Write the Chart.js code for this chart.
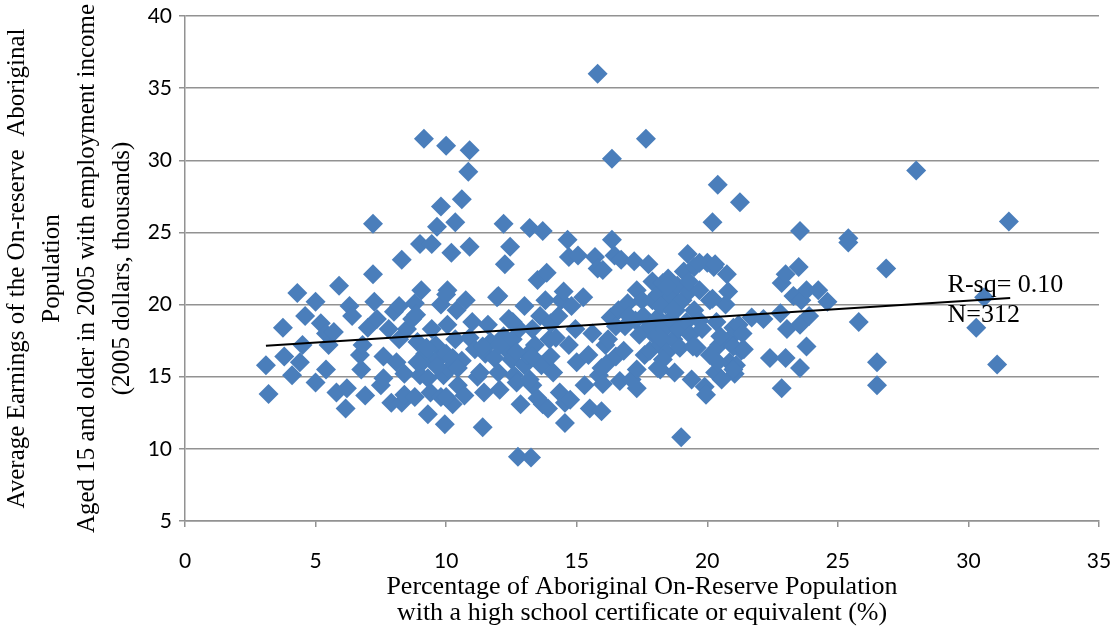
<!DOCTYPE html>
<html>
<head>
<meta charset="utf-8">
<script src="https://cdn.jsdelivr.net/npm/chart.js@4.4.1/dist/chart.umd.min.js"></script>
<style>
  html, body { margin: 0; padding: 0; background: #fff; overflow: hidden; }
  canvas { display: block; }
</style>
</head>
<body>
<canvas id="scatterChart" width="1119" height="640"></canvas>
<script>
// % of on-reserve population with high school certificate, per community
const pctHighSchool = [
  3.1, 3.2, 3.75, 3.8, 4.1, 4.3, 4.4, 4.5, 4.6, 5.0,
  5.0, 5.2, 5.4, 5.5, 5.4, 5.7, 5.9, 5.8, 6.2, 6.15,
  6.3, 6.4, 6.7, 6.75, 6.8, 6.9, 7.0, 7.2, 7.2, 7.25,
  7.35, 7.5, 7.6, 7.6, 7.8, 7.9, 8.0, 8.1, 8.2, 8.2,
  8.3, 8.3, 8.4, 8.4, 8.5, 8.7, 8.8, 8.85, 8.9, 9.0,
  9.05, 9.0, 9.15, 9.15, 9.2, 9.3, 9.3, 9.4, 9.45, 9.45,
  9.6, 9.65, 9.7, 9.8, 9.8, 9.8, 9.9, 9.95, 10.0, 10.0,
  10.05, 10.05, 10.1, 10.2, 10.25, 10.35, 10.35, 10.4, 10.45, 10.6,
  10.6, 10.7, 10.75, 10.85, 10.9, 10.9, 10.9, 11.0, 11.1, 11.2,
  11.3, 11.4, 11.45, 11.5, 11.6, 11.7, 11.85, 11.95, 12.0, 12.05,
  12.2, 12.2, 12.25, 12.3, 12.4, 12.45, 12.5, 12.55, 12.6, 12.7,
  12.75, 12.8, 12.85, 13.0, 13.0, 13.1, 13.2, 13.25, 13.3, 13.3,
  13.4, 13.5, 13.5, 13.6, 13.65, 13.7, 13.7, 13.8, 13.85, 13.9,
  13.95, 14.0, 14.0, 14.1, 14.2, 14.3, 14.35, 14.4, 14.5, 14.55,
  14.55, 14.65, 14.7, 14.7, 14.8, 14.95, 15.0, 15.05, 15.25, 15.3,
  15.45, 15.5, 15.6, 15.7, 15.8, 15.8, 15.85, 15.95, 15.95, 16.0,
  16.1, 16.15, 16.3, 16.35, 16.35, 16.45, 16.5, 16.5, 16.6, 16.65,
  16.7, 16.8, 16.85, 16.95, 17.0, 17.1, 17.2, 17.25, 17.3, 17.3,
  17.4, 17.5, 17.55, 17.6, 17.65, 17.75, 17.8, 17.8, 17.9, 17.9,
  18.0, 18.1, 18.1, 18.2, 18.2, 18.3, 18.35, 18.4, 18.45, 18.5,
  18.6, 18.65, 18.7, 18.75, 18.8, 18.85, 18.9, 18.95, 19.0, 19.05,
  19.1, 19.2, 19.25, 19.3, 19.35, 19.4, 19.5, 19.5, 19.6, 19.7,
  19.7, 19.8, 19.9, 19.95, 20.0, 20.1, 20.1, 20.2, 20.25, 20.3,
  20.35, 20.4, 20.45, 20.55, 20.7, 20.75, 20.8, 20.85, 20.9, 21.0,
  21.05, 21.1, 21.2, 21.25, 21.3, 21.35, 21.7, 22.15, 22.4, 22.8,
  22.85, 22.85, 23.0, 23.0, 23.05, 23.3, 23.5, 23.55, 23.55, 23.55,
  23.6, 23.8, 23.8, 23.9, 24.25, 24.6, 25.4, 25.4, 25.8, 26.5,
  26.5, 26.85, 28.0, 30.6, 30.3, 31.1, 31.55, 16.0, 19.7, 20.3,
  18.45, 19.3, 18.2, 18.7, 20.2, 20.5, 18.2, 19.45, 21.0, 21.4,
  16.2, 18.3, 20.4, 21.0, 18.1, 17.3, 10.0, 12.0, 12.55, 9.25,
  10.25, 11.4, 12.05, 12.7, 13.3, 8.9, 9.65, 10.45, 13.2, 8.8,
  10.0, 14.75
];

// average employment earnings, thousands of 2005 dollars
const avgEarnings = [
  15.8, 13.8, 18.4, 16.4, 15.1, 20.8, 16.0, 17.2, 19.2, 20.2,
  14.6, 18.7, 18.0, 17.2, 15.5, 18.1, 21.3, 13.9, 14.2, 12.8,
  19.9, 19.2, 16.5, 15.5, 17.2, 13.7, 18.4, 22.1, 25.6, 20.2,
  19.0, 14.4, 14.9, 16.4, 18.3, 13.2, 19.5, 16.0, 17.6, 19.9,
  23.1, 13.2, 15.2, 13.75, 18.3, 19.0, 20.1, 19.3, 17.4, 24.2,
  21.0, 15.1, 31.5, 16.1, 16.6, 14.9, 12.4, 13.9, 18.3, 24.2,
  17.2, 25.4, 16.2, 26.8, 13.6, 20.0, 15.1, 11.7, 16.6, 31.0,
  21.0, 18.6, 15.5, 23.6, 13.1, 25.7, 17.6, 19.6, 14.4, 27.3,
  16.1, 13.7, 20.3, 29.2, 30.7, 24.0, 17.7, 18.8, 16.9, 15.0,
  15.3, 11.5, 13.9, 16.6, 18.6, 17.4, 16.3, 20.5, 15.3, 14.1,
  17.8, 25.6, 22.8, 16.9, 19.0, 24.0, 16.2, 17.6, 15.1, 14.6,
  9.45, 18.3, 13.1, 19.9, 15.8, 16.5, 25.3, 9.4, 14.4, 18.3,
  17.2, 21.7, 13.5, 19.2, 15.8, 25.1, 13.1, 20.3, 22.2, 12.8,
  17.6, 18.7, 16.4, 15.3, 17.7, 19.2, 13.9, 20.3, 20.9, 13.2,
  11.8, 24.5, 23.3, 17.2, 19.9, 18.3, 16.0, 23.4, 20.5, 14.4,
  16.5, 12.8, 18.0, 23.3, 36.0, 22.5, 15.1, 15.6, 12.6, 14.5,
  17.2, 15.9, 19.1, 30.1, 24.5, 23.4, 18.5, 16.4, 19.6, 14.7,
  23.1, 16.8, 18.5, 20.1, 19.2, 14.8, 23.0, 18.9, 21.0, 15.5,
  17.9, 20.3, 19.2, 16.5, 31.5, 22.8, 18.5, 16.8, 21.6, 20.3,
  17.8, 20.7, 19.1, 17.2, 15.5, 21.5, 18.3, 20.0, 16.7, 21.8,
  19.0, 20.6, 17.6, 15.3, 19.6, 21.3, 18.3, 17.0, 10.8, 20.3,
  22.3, 18.8, 23.5, 20.9, 17.9, 14.8, 22.6, 19.6, 17.0, 21.0,
  18.9, 18.3, 14.3, 13.75, 22.9, 16.5, 20.3, 25.7, 22.6, 15.3,
  18.8, 28.3, 17.2, 14.8, 20.0, 22.1, 20.9, 16.0, 17.7, 18.4,
  15.2, 15.8, 18.6, 27.1, 16.8, 18.0, 19.1, 19.0, 16.3, 19.4,
  21.5, 14.2, 22.1, 16.3, 18.3, 20.6, 22.6, 25.1, 18.6, 15.6,
  20.3, 21.0, 17.1, 19.2, 21.0, 20.2, 24.6, 24.3, 18.8, 16.0,
  14.4, 22.5, 29.3, 20.5, 18.4, 15.85, 25.75, 22.4, 22.9, 22.8,
  21.25, 21.6, 19.9, 19.65, 20.4, 17.8, 17.7, 17.1, 17.1, 16.9,
  17.6, 16.2, 16.0, 15.5, 15.6, 14.2, 20.7, 20.6, 18.8, 17.0,
  16.3, 17.1, 17.2, 16.7, 16.4, 16.0, 15.7, 15.6, 14.8, 13.6,
  13.6, 13.4
];

// linear fit end points
const trendX = [3.1, 31.6];
const trendY = [17.15, 20.45];
const fitLabels = ["R-sq= 0.10", "N=312"];

const points = pctHighSchool.map((x, i) => ({ x: x, y: avgEarnings[i] }));
const trend = trendX.map((x, i) => ({ x: x, y: trendY[i] }));

const serif = "'Liberation Serif', 'Times New Roman', serif";
const axisGrey = "#929292";

// R-sq / N note next to the fit line
const fitLabelPlugin = {
  id: "fitLabel",
  afterDatasetsDraw(chart) {
    const { ctx, scales } = chart;
    const left = scales.x.getPixelForValue(29.2);
    const base = scales.y.getPixelForValue(20.9);
    ctx.save();
    ctx.font = "26px " + serif;
    ctx.fillStyle = "#000";
    ctx.textBaseline = "alphabetic";
    fitLabels.forEach((t, i) => ctx.fillText(t, left, base + i * 30));
    ctx.restore();
  }
};

new Chart(document.getElementById("scatterChart"), {
  type: "scatter",
  data: {
    datasets: [
      {
        label: "Communities",
        data: points,
        order: 1,
        pointStyle: "rectRot",
        pointRadius: 10,
        pointBackgroundColor: "#4A7EBB",
        pointBorderColor: "#4A7EBB",
        pointBorderWidth: 0,
      },
      {
        label: "Linear fit",
        type: "line",
        data: trend,
        order: 0,
        borderColor: "#000",
        borderWidth: 2,
        pointRadius: 0,
        fill: false,
      },
    ],
  },
  options: {
    responsive: false,
    animation: false,
    devicePixelRatio: 1,
    layout: { padding: { top: 16, right: 20, bottom: 0, left: 0 } },
    plugins: {
      legend: { display: false },
      tooltip: { enabled: false },
    },
    scales: {
      x: {
        type: "linear",
        min: 0,
        max: 35,
        // tick padding would otherwise widen the side margins
        afterFit(scale) {
          scale.height = 119;
          scale.paddingLeft = 0;
          scale.paddingRight = 20;
        },
        ticks: {
          stepSize: 5,
          padding: 22,
          color: "#000",
          font: { family: "Lato", size: 21 },
        },
        grid: {
          drawOnChartArea: false,
          tickLength: 6,
          color: axisGrey,
          lineWidth: 1.5,
        },
        border: { color: axisGrey, width: 1.5 },
        title: {
          display: true,
          text: [
            "Percentage of Aboriginal On-Reserve Population",
            "with a high school certificate or equivalent (%)",
          ],
          color: "#000",
          font: { family: serif, size: 26, lineHeight: 1.0 },
          padding: { top: 0, bottom: 14 },
        },
      },
      y: {
        min: 5,
        max: 40,
        afterFit(scale) {
          scale.width = 185;
          scale.paddingTop = 16;
          scale.paddingBottom = 0;
        },
        ticks: {
          stepSize: 5,
          padding: 7,
          color: "#000",
          font: { family: "Lato", size: 21 },
        },
        grid: {
          tickLength: 6,
          color: axisGrey,
          lineWidth: 1.5,
        },
        border: { color: axisGrey, width: 1.5 },
        title: {
          display: true,
          text: [
            "Average Earnings of the On-reserve  Aboriginal",
            "Population",
            "Aged 15 and older in 2005 with employment income",
            "(2005 dollars, thousands)",
          ],
          color: "#000",
          font: { family: serif, size: 25, lineHeight: 1.4 },
          padding: { top: 0, bottom: 0 },
        },
      },
    },
  },
  plugins: [fitLabelPlugin],
});
</script>
</body>
</html>
